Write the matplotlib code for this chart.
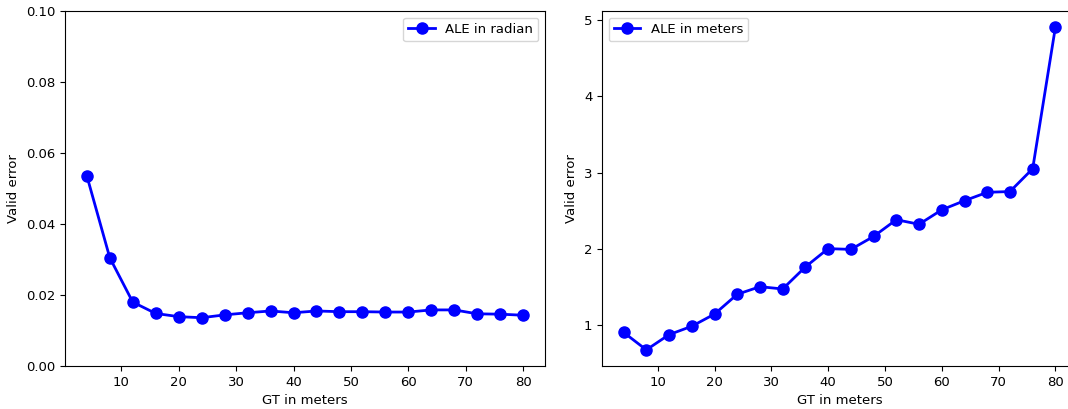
import matplotlib
matplotlib.use('Agg')
import matplotlib.pyplot as plt

# GT distance bins (meters)
gt_meters = [4, 8, 12, 16, 20, 24, 28, 32, 36, 40, 44, 48, 52, 56, 60, 64, 68, 72, 76, 80]

# ALE in radian
ale_radian = [0.0536, 0.0305, 0.0180, 0.0148, 0.0139, 0.0136, 0.0144, 0.0150, 0.0155, 0.0150,
              0.0155, 0.0153, 0.0153, 0.0152, 0.0152, 0.0158, 0.0158, 0.0147, 0.0146, 0.0143]

# ALE in meters
ale_meters = [0.90, 0.67, 0.87, 0.98, 1.14, 1.40, 1.50, 1.47, 1.76, 2.00,
              1.99, 2.16, 2.38, 2.32, 2.51, 2.63, 2.74, 2.75, 3.05, 4.91]

plt.rcParams['font.size'] = 9.5

W, H = 1068, 409
fig = plt.figure(figsize=(W / 100, H / 100), dpi=100)

# 왼쪽: radian
ax1 = fig.add_axes([65 / W, (H - 366) / H, (545 - 65) / W, (366 - 11) / H])
ax1.plot(gt_meters, ale_radian, color='blue', marker='o', markersize=8, linewidth=2,
         label='ALE in radian')
ax1.set_ylim(0, 0.1)
ax1.set_xticks([10, 20, 30, 40, 50, 60, 70, 80])
ax1.set_xlabel('GT in meters')
ax1.set_ylabel('Valid error')
ax1.legend(loc='upper right')

# 오른쪽: meters (원본은 오른쪽이 잘려 있음)
ax2 = fig.add_axes([602 / W, (H - 366) / H, (1077 - 602) / W, (366 - 11) / H])
ax2.plot(gt_meters, ale_meters, color='blue', marker='o', markersize=8, linewidth=2,
         label='ALE in meters')
ax2.set_xticks([10, 20, 30, 40, 50, 60, 70, 80])
ax2.set_xlabel('GT in meters')
ax2.set_ylabel('Valid error')
ax2.legend(loc='upper left')

fig.savefig('out.png', dpi=100)
plt.close()
